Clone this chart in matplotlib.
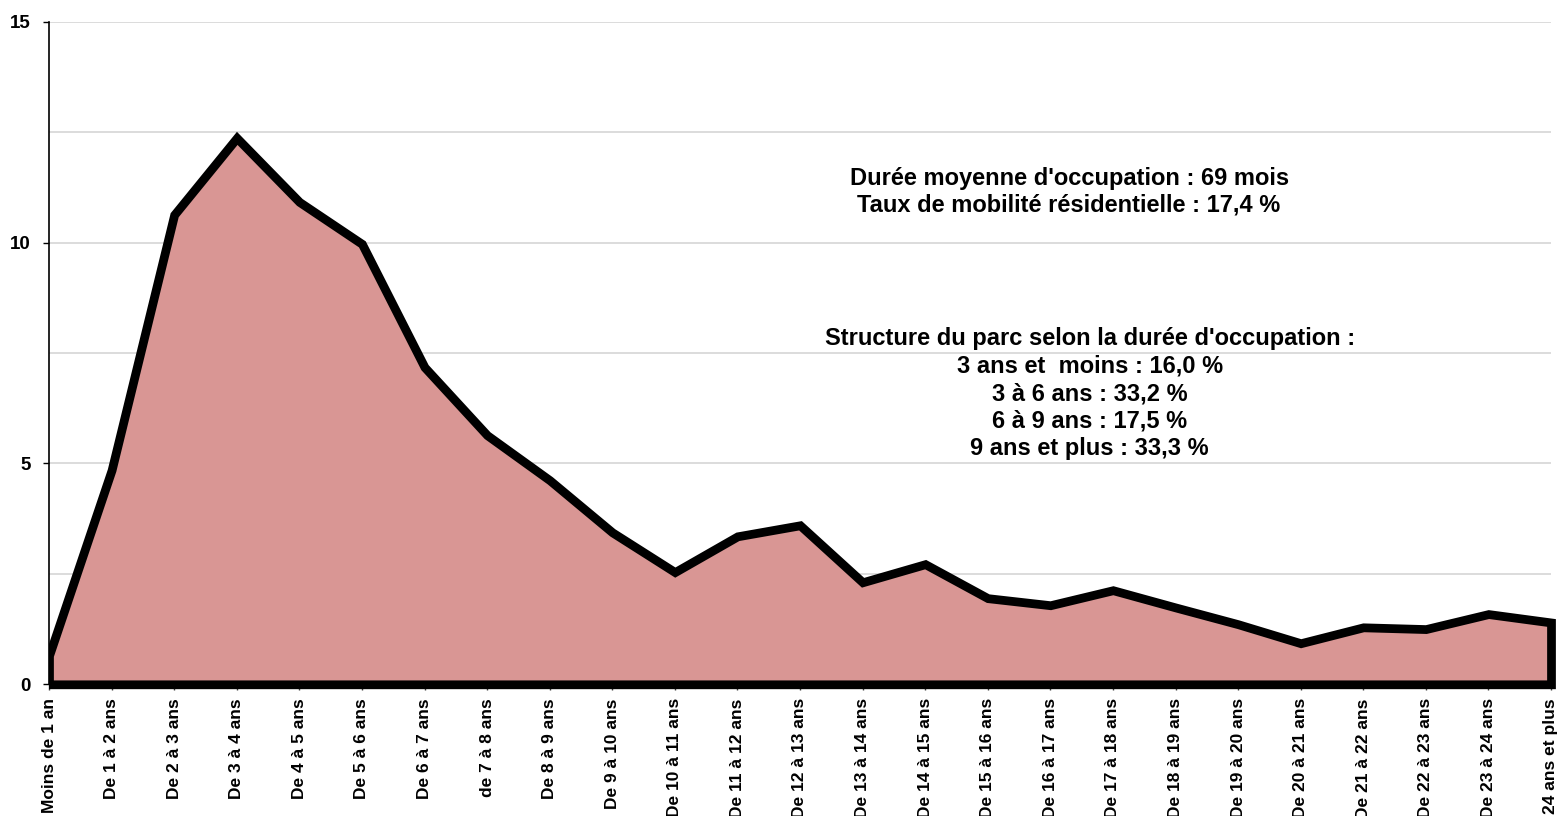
import matplotlib
matplotlib.use("Agg")
import matplotlib.pyplot as plt
from matplotlib.patches import Rectangle
from matplotlib.ticker import MultipleLocator

plt.rcParams['font.family'] = ['Liberation Sans', 'DejaVu Sans']

categories = ["Moins de 1 an", "De 1 à 2 ans", "De 2 à 3 ans", "De 3 à 4 ans",
              "De 4 à 5 ans", "De 5 à 6 ans", "De 6 à 7 ans", "de 7 à 8 ans",
              "De 8 à 9 ans", "De 9 à 10 ans", "De 10 à 11 ans", "De 11 à 12 ans",
              "De 12 à 13 ans", "De 13 à 14 ans", "De 14 à 15 ans", "De 15 à 16 ans",
              "De 16 à 17 ans", "De 17 à 18 ans", "De 18 à 19 ans", "De 19 à 20 ans",
              "De 20 à 21 ans", "De 21 à 22 ans", "De 22 à 23 ans", "De 23 à 24 ans",
              "24 ans et plus"]
values = [0.65, 4.85, 10.63, 12.37, 10.92, 9.97, 7.18, 5.64, 4.62, 3.44,
          2.54, 3.35, 3.60, 2.31, 2.72, 1.95, 1.79, 2.13, 1.74, 1.36,
          0.93, 1.29, 1.25, 1.59, 1.40]
y_ticks = [0, 5, 10, 15]

text_block1 = "Durée moyenne d'occupation : 69 mois\nTaux de mobilité résidentielle : 17,4 %"
text_block2 = ("Structure du parc selon la durée d'occupation :\n"
               "3 ans et  moins : 16,0 %\n3 à 6 ans : 33,2 %\n"
               "6 à 9 ans : 17,5 %\n9 ans et plus : 33,3 %")

fig = plt.figure(figsize=(15.61, 8.16), dpi=100)
ax = fig.add_axes([49/1561, 1-684.3/816, (1551-49)/1561, (684.3-21.7)/816])

x = list(range(len(categories)))
poly = ax.fill_between(x, values, 0, facecolor="#D99694", edgecolor="black",
                       linewidth=6.3, zorder=3)
poly.set_joinstyle('miter')
clip = Rectangle((0, -1), len(categories), 20, transform=ax.transData)
poly.set_clip_path(clip)

ax.set_xlim(0, len(categories) - 1)
ax.set_ylim(0, 15)
ax.set_yticks(y_ticks)
ax.yaxis.set_minor_locator(MultipleLocator(2.5))
ax.grid(True, which='both', axis='y', color="#D9D9D9", linewidth=1.3, zorder=0)
ax.set_axisbelow(True)
ax.tick_params(axis='y', which='minor', length=0)
ax.tick_params(axis='y', which='major', length=4.3, width=1, pad=9)
ax.set_yticklabels([str(v) for v in y_ticks], fontweight='bold', fontsize=13.5)

ax.set_xticks(x)
ax.set_xticklabels(categories, rotation=90, fontsize=12.5, fontweight='bold')
ax.tick_params(axis='x', length=4, width=1, color="#404040", pad=6)

for s in ['top', 'right']:
    ax.spines[s].set_visible(False)
ax.spines['left'].set_linewidth(1.2)
ax.spines['bottom'].set_visible(False)

ax.text(16.30, 11.15, text_block1, ha='center', va='center', fontsize=17,
        fontweight='bold', linespacing=1.2)
ax.text(16.63, 6.58, text_block2, ha='center', va='center', fontsize=17,
        fontweight='bold', linespacing=1.25)

fig.savefig("out.png", dpi=100)
